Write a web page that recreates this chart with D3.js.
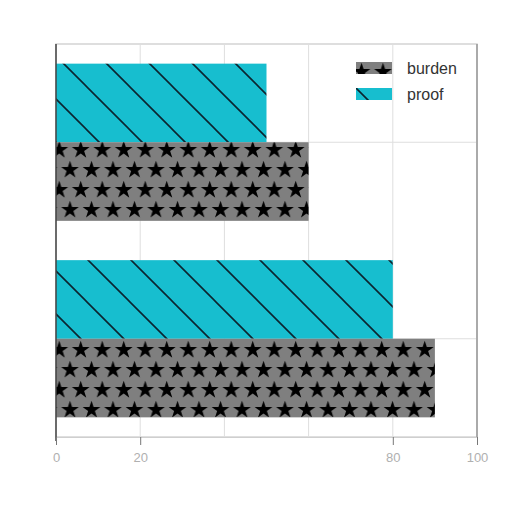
<!DOCTYPE html>
<html>
<head>
<meta charset="utf-8">
<script src="https://cdn.jsdelivr.net/npm/d3@7"></script>
<style>
    body { margin: 0; background: #fff; }
    svg text { font-family: "Liberation Sans", Arial, sans-serif; }
</style>
</head>
<body>
<svg id="chart" width="512" height="512"></svg>
<script>
// data
const groups = ['A', 'B'];
const seriesNames = ['proof', 'burden'];
const proofValues = [50, 80];
const burdenValues = [60, 90];
const xTicks = [0, 20, 80, 100];
const gridTicks = [20, 40, 60, 80];

const colors = {burden: '#7f7f7f', proof: '#17becf'};

const MARGIN = {left: 56, right: 35, top: 44, bottom: 75};
const WIDTH = 512, HEIGHT = 512;

const svg = d3.select('#chart');
const defs = svg.append('defs');

// star pattern for burden
const STAR_W = 21.5, STAR_H = 40;
const starPat = defs.append('pattern')
    .attr('id', 'stars')
    .attr('patternUnits', 'userSpaceOnUse')
    .attr('width', STAR_W)
    .attr('height', STAR_H);
starPat.append('rect')
    .attr('width', STAR_W).attr('height', STAR_H)
    .attr('fill', colors.burden);
const star = d3.symbol().type(d3.symbolStar).size(98);
[[5.5, 10], [16.25, 30], [-5.25, 30], [27, 10]].forEach(([sx, sy]) => {
    starPat.append('path')
        .attr('d', star())
        .attr('transform', 'translate(' + sx + ',' + sy + ')')
        .attr('fill', '#000');
});

// diagonal hatch for proof
const H = 43;
const hatch = defs.append('pattern')
    .attr('id', 'hatch')
    .attr('patternUnits', 'userSpaceOnUse')
    .attr('width', H)
    .attr('height', H);
hatch.append('rect')
    .attr('width', H).attr('height', H)
    .attr('fill', colors.proof);
hatch.append('path')
    .attr('d', `M-5,-5L${H + 5},${H + 5}M${H - 5},-5L${H + 5},5M-5,${H - 5}L5,${H + 5}`)
    .attr('stroke', '#0b2530')
    .attr('stroke-width', 1.6);

const fills = {burden: 'url(#stars)', proof: 'url(#hatch)'};

const x = d3.scaleLinear()
    .domain([0, 100])
    .range([MARGIN.left, WIDTH - MARGIN.right]);

const y = d3.scaleBand()
    .domain(groups)
    .range([MARGIN.top, HEIGHT - MARGIN.bottom])
    .paddingInner(0.2)
    .paddingOuter(0.1);

const ySub = d3.scaleBand()
    .domain(seriesNames)
    .range([0, y.bandwidth()]);

const root = svg.append('g');

// frame
root.append('rect')
    .attr('x', x(0))
    .attr('y', MARGIN.top)
    .attr('width', x(100) - x(0))
    .attr('height', HEIGHT - MARGIN.bottom - MARGIN.top)
    .attr('fill', '#fff')
    .attr('stroke', '#d4d4d4')
    .attr('stroke-width', 1.5);

// grid
root.append('g')
    .selectAll('line.vgrid')
    .data(gridTicks)
    .enter()
    .append('line')
    .attr('x1', d => x(d)).attr('x2', d => x(d))
    .attr('y1', MARGIN.top).attr('y2', HEIGHT - MARGIN.bottom)
    .attr('stroke', '#dedede');

root.append('g')
    .selectAll('line.hgrid')
    .data(groups)
    .enter()
    .append('line')
    .attr('x1', x(0)).attr('x2', x(100))
    .attr('y1', d => y(d) + y.bandwidth() / 2)
    .attr('y2', d => y(d) + y.bandwidth() / 2)
    .attr('stroke', '#dedede');

// bars
const rows = [];
groups.forEach((g, i) => {
    rows.push({group: g, series: 'proof', value: proofValues[i]});
    rows.push({group: g, series: 'burden', value: burdenValues[i]});
});

root.append('g')
    .selectAll('rect.bar')
    .data(rows)
    .enter()
    .append('rect')
    .attr('x', x(0))
    .attr('y', d => y(d.group) + ySub(d.series))
    .attr('width', d => x(d.value) - x(0))
    .attr('height', ySub.bandwidth())
    .attr('fill', d => fills[d.series]);

// left spine
root.append('line')
    .attr('x1', x(0)).attr('x2', x(0))
    .attr('y1', MARGIN.top).attr('y2', HEIGHT - MARGIN.bottom + 4)
    .attr('stroke', '#444')
    .attr('stroke-width', 1.5);

// right spine, slightly darker
root.append('line')
    .attr('x1', x(100)).attr('x2', x(100))
    .attr('y1', MARGIN.top).attr('y2', HEIGHT - MARGIN.bottom)
    .attr('stroke', '#999')
    .attr('stroke-width', 1.5);

// x axis
const xAxis = root.append('g')
    .attr('transform', 'translate(0,' + (HEIGHT - MARGIN.bottom) + ')')
    .call(
        d3.axisBottom(x)
            .tickValues(xTicks)
            .tickSize(8)
            .tickPadding(8)
    );
xAxis.select('.domain').attr('stroke', '#cfcfcf');
xAxis.selectAll('.tick line').attr('stroke', '#777');
xAxis.selectAll('.tick text')
    .attr('fill', '#b0b0b0')
    .style('font-size', '13px');

// legend
const legend = root.append('g')
    .attr('transform', 'translate(356,62)');
const legendItems = ['burden', 'proof'];
const li = legend.selectAll('g.item')
    .data(legendItems)
    .enter()
    .append('g')
    .attr('transform', (d, i) => 'translate(0,' + (i * 26) + ')');
li.append('rect')
    .attr('width', 36)
    .attr('height', 12)
    .attr('fill', d => fills[d]);
li.append('text')
    .attr('x', 51)
    .attr('y', 6)
    .attr('dy', '0.35em')
    .attr('fill', '#333')
    .style('font-size', '16px')
    .text(d => d);
</script>
</body>
</html>
